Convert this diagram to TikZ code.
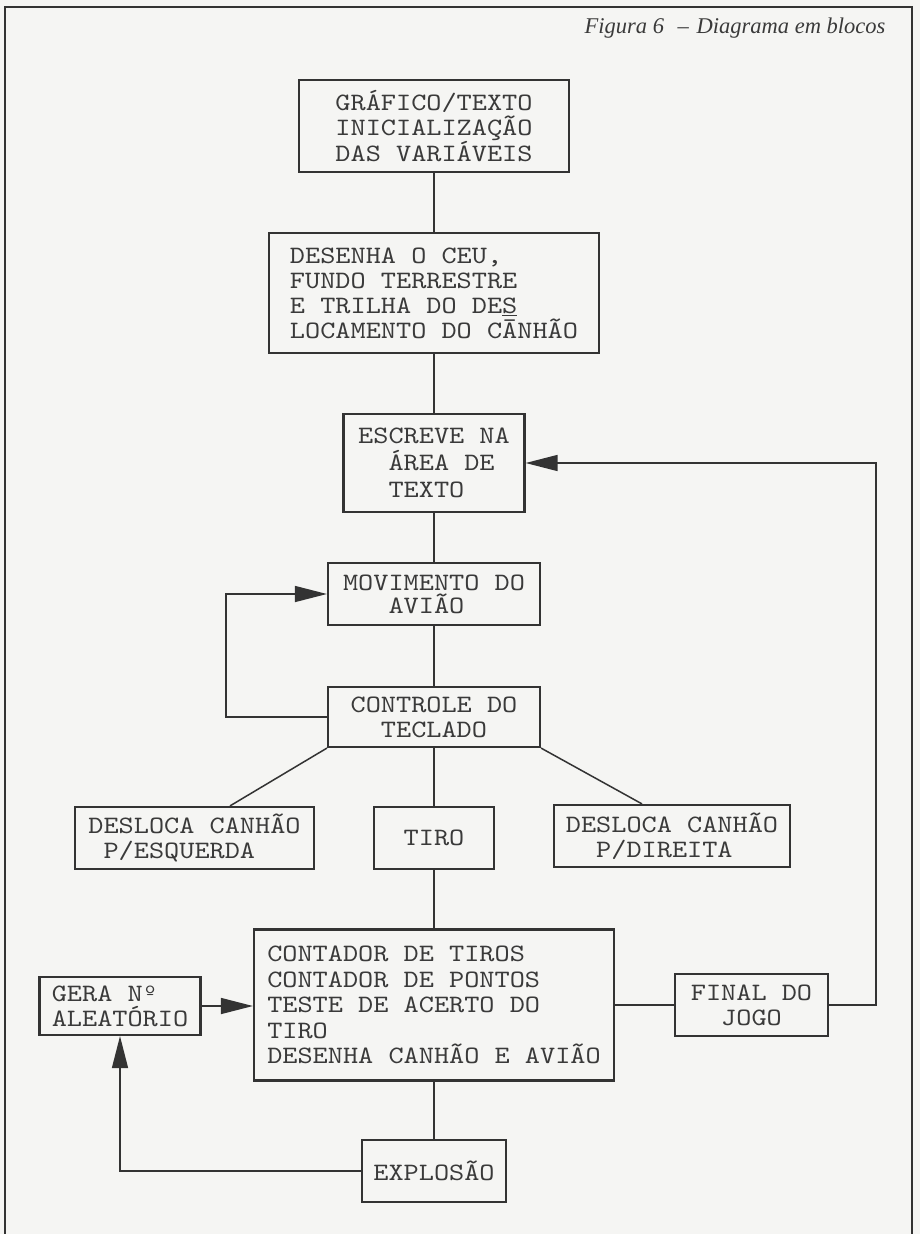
\documentclass[tikz,border=0pt]{standalone}
\usepackage{fontspec}
\usetikzlibrary{arrows.meta}
\newfontfamily\tw{lmmono10-regular.otf}[FakeStretch=1.155]
\newfontfamily\tserif{Liberation Serif}
\definecolor{ink}{HTML}{333333}
\definecolor{txt}{HTML}{3A3A3A}
\definecolor{paper}{HTML}{F5F5F3}
\newcommand\bfnt[1]{\tw\fontsize{25}{#1}\selectfont}
\tikzset{
  box/.style={draw=ink, line width=2.2pt, align=left, inner sep=0pt, text=txt, font=\bfnt{25}},
  conn/.style={draw=ink, line width=1.5pt},
  arr/.style={conn, -{Triangle[length=32pt,width=16pt]}},
  frame/.style={draw=ink, line width=2pt}
}
\begin{document}
\begin{tikzpicture}[x=1pt,y=-1pt]
\fill[paper] (0,0) rectangle (920,1234);
\useasboundingbox (0,0) rectangle (920,1234);
\draw[frame] (5,1234) -- (5,7) -- (912,7) -- (912,1234);
\node[anchor=base east, text=txt, font=\tserif\itshape\fontsize{22.5}{26}\selectfont] (title) at (889,33) {Figura 6\hspace{0.6em}–\hspace{0.35em}Diagrama em blocos};
\coordinate (lp) at (226,0);
\coordinate (rp) at (876,0);
\node[box, font=\bfnt{24.5}, minimum width=270pt, minimum height=92pt] (b1) at (434,126) {GRÁFICO/TEXTO\\INICIALIZAÇÃO\\DAS VARIÁVEIS};
\node[box, minimum width=330pt, minimum height=120pt] (b2) at (434,293) {DESENHA O CEU,\\FUNDO TERRESTRE\\E TRILHA DO DE\underline{S}\\LOCAMENTO DO CĀNHÃO};
\node[box, font=\bfnt{27}, minimum width=181pt, minimum height=98pt] (b3) at (434,463) {ESCREVE NA\\\phantom{XX}ÁREA DE\\\phantom{XX}TEXTO};
\node[box, font=\bfnt{23}, minimum width=212pt, minimum height=62pt] (b4) at (434,594) {MOVIMENTO DO\\\phantom{XXX}AVIÃO};
\node[box, minimum width=212pt, minimum height=60pt] (b5) at (434,717) {CONTROLE DO\\\phantom{XX}TECLADO};
\node[box, minimum width=239pt, minimum height=62pt] (sl) at (194.5,838) {DESLOCA CANHÃO\\\phantom{X}P/ESQUERDA};
\node[box, minimum width=120pt, minimum height=62pt] (tiro) at (434,838) {TIRO};
\node[box, minimum width=236pt, minimum height=62pt] (sr) at (672,836) {DESLOCA CANHÃO\\\phantom{XX}P/DIREITA};
\node[box, font=\bfnt{25.5}, minimum width=360pt, minimum height=151pt] (b6) at (434,1005) {CONTADOR DE TIROS\\CONTADOR DE PONTOS\\TESTE DE ACERTO DO\\TIRO\\DESENHA CANHÃO E AVIÃO};
\node[box, minimum width=161pt, minimum height=58pt] (gera) at (120,1006) {GERA Nº\\ALEATÓRIO};
\node[box, minimum width=153pt, minimum height=62pt] (fin) at (751.5,1005) {FINAL DO\\\phantom{XX}JOGO};
\node[box, minimum width=144pt, minimum height=62pt] (expl) at (434,1171) {EXPLOSÃO};
\draw[conn] (b1) -- (b2);
\draw[conn] (b2) -- (b3);
\draw[conn] (b3) -- (b4);
\draw[conn] (b4) -- (b5);
\draw[conn] (b5) -- (tiro);
\draw[conn] (tiro) -- (b6);
\draw[conn] (b6) -- (expl);
\draw[arr] (b5.west) -- (b5.west -| lp) |- (b4.west);
\draw[conn] (b5.south west) -- ([xshift=35.5pt]sl.north);
\draw[conn] (b5.south east) -- ([xshift=-30pt]sr.north);
\draw[arr] (gera.east) -- (gera.east -| b6.west);
\draw[conn] (b6.east) -- (fin.west);
\draw[arr] (fin.east) -- (fin.east -| rp) |- (b3.east);
\draw[arr] (expl.west) -| (gera.south);
\end{tikzpicture}
\end{document}
